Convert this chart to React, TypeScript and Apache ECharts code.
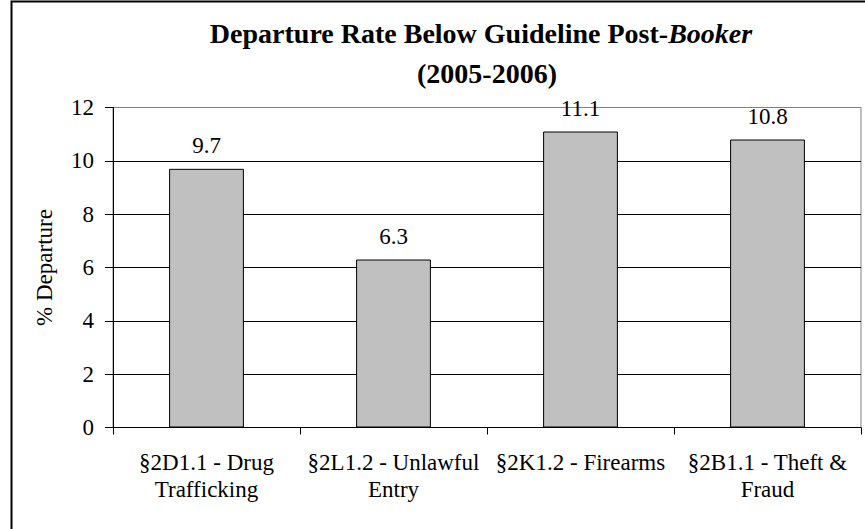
import React, { useEffect, useRef } from "react";
import * as echarts from "echarts";

const categories = [
  "§2D1.1 - Drug\nTrafficking",
  "§2L1.2 - Unlawful\nEntry",
  "§2K1.2 - Firearms",
  "§2B1.1 - Theft &\nFraud",
];
const values = [9.7, 6.3, 11.1, 10.8];
const yTicks = { min: 0, max: 12, interval: 2 };
const yAxisName = "% Departure";
const titleLine1 = "Departure Rate Below Guideline Post-";
const titleItalic = "Booker";
const titleLine2 = "(2005-2006)";

const FONT = "'Liberation Serif', 'Times New Roman', serif";

export default function App() {
  const ref = useRef<HTMLDivElement>(null);
  useEffect(() => {
    if (!ref.current) return;
    const chart = echarts.init(ref.current, null, { renderer: "svg" });
    chart.setOption({
      animation: false,
      backgroundColor: "#ffffff",
      grid: { left: 113, right: 4, top: 107.5, bottom: 101.5, show: true, borderColor: "#808080", borderWidth: 1 },
      graphic: [
        {
          type: "rect",
          z: -1,
          shape: { x: 11.5, y: 1.5, width: 900, height: 600 },
          style: { fill: "none", stroke: "#000", lineWidth: 2 },
        },
        {
          type: "text",
          x: 481,
          y: 33,
          style: {
            text: `{b|${titleLine1}}{i|${titleItalic}}`,
            align: "center",
            verticalAlign: "middle",
            rich: {
              b: { fontFamily: FONT, fontSize: 28, fontWeight: "bold", fill: "#000" },
              i: { fontFamily: FONT, fontSize: 28, fontWeight: "bold", fontStyle: "italic", fill: "#000" },
            },
          },
        },
        {
          type: "text",
          x: 487,
          y: 73.5,
          style: {
            text: titleLine2,
            align: "center",
            verticalAlign: "middle",
            fontFamily: FONT,
            fontSize: 28,
            fontWeight: "bold",
            fill: "#000",
          },
        },
      ],
      xAxis: {
        type: "category",
        data: categories,
        axisLine: { lineStyle: { color: "#000", width: 1 } },
        axisTick: { show: true, length: 7, lineStyle: { color: "#000" } },
        axisLabel: {
          interval: 0,
          margin: 22,
          color: "#000",
          fontFamily: FONT,
          fontSize: 23,
          lineHeight: 26.5,
        },
      },
      yAxis: {
        type: "value",
        min: yTicks.min,
        max: yTicks.max,
        interval: yTicks.interval,
        name: yAxisName,
        nameLocation: "middle",
        nameGap: 57,
        nameRotate: 90,
        nameTextStyle: { color: "#000", fontFamily: FONT, fontSize: 23 },
        axisLine: { show: true, lineStyle: { color: "#000", width: 1 } },
        axisTick: { show: true, length: 8, lineStyle: { color: "#000" } },
        axisLabel: { margin: 19, color: "#000", fontFamily: FONT, fontSize: 23 },
        splitLine: {
          show: true,
          lineStyle: { color: ["#000", "#000", "#000", "#000", "#000", "#000", "#808080"], width: 1 },
        },
      },
      series: [
        {
          type: "bar",
          data: values,
          barWidth: "40%",
          itemStyle: { color: "#c0c0c0", borderColor: "#000", borderWidth: 1 },
          label: {
            show: true,
            position: "top",
            distance: 12,
            color: "#000",
            fontFamily: FONT,
            fontSize: 23,
          },
        },
      ],
    });
    return () => chart.dispose();
  }, []);
  return (
    <div
      ref={ref}
      style={{ position: "fixed", left: 0, top: 0, width: 865, height: 529 }}
    />
  );
}
